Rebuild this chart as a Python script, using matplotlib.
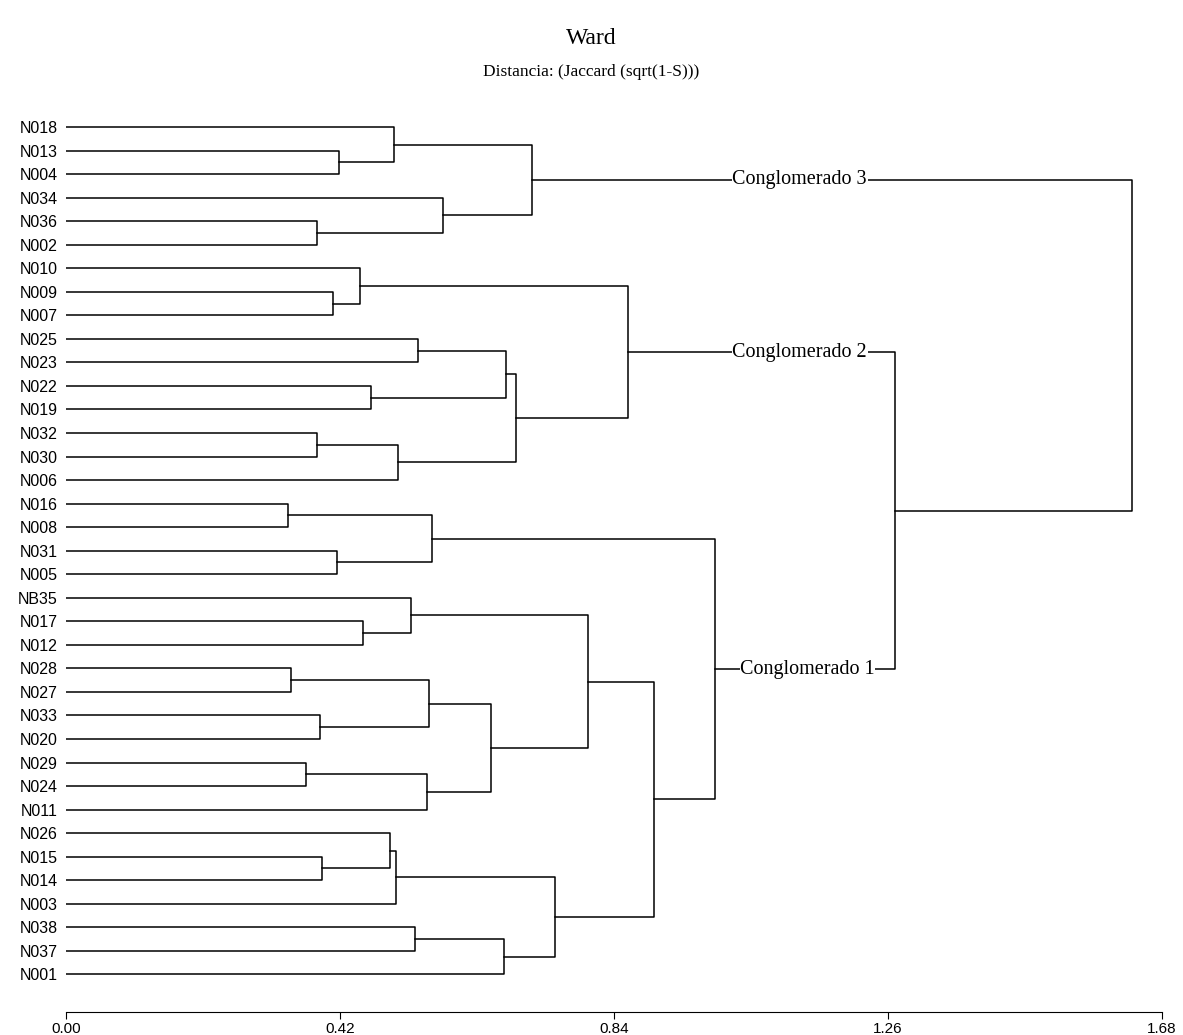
import matplotlib.pyplot as plt

leaves = ['N018', 'N013', 'N004', 'N034', 'N036', 'N002', 'N010', 'N009', 'N007',
          'N025', 'N023', 'N022', 'N019', 'N032', 'N030', 'N006', 'N016', 'N008',
          'N031', 'N005', 'NB35', 'N017', 'N012', 'N028', 'N027', 'N033', 'N020',
          'N029', 'N024', 'N011', 'N026', 'N015', 'N014', 'N003', 'N038', 'N037', 'N001']

# merges: (name, left, right, height)
merges = [
    ('a1', 'N013', 'N004', 0.418), ('a2', 'N018', 'a1', 0.503),
    ('a3', 'N036', 'N002', 0.385), ('a4', 'N034', 'a3', 0.578),
    ('C3', 'a2', 'a4', 0.714),
    ('b1', 'N009', 'N007', 0.409), ('b2', 'N010', 'b1', 0.451),
    ('b3', 'N025', 'N023', 0.540), ('b4', 'N022', 'N019', 0.468),
    ('b5', 'b3', 'b4', 0.674), ('b6', 'N032', 'N030', 0.385),
    ('b7', 'b6', 'N006', 0.509), ('b8', 'b5', 'b7', 0.690),
    ('C2', 'b2', 'b8', 0.861),
    ('c1', 'N016', 'N008', 0.340), ('c2', 'N031', 'N005', 0.415),
    ('c3', 'c1', 'c2', 0.561), ('c4', 'N017', 'N012', 0.455),
    ('c5', 'NB35', 'c4', 0.529), ('c6', 'N028', 'N027', 0.345),
    ('c7', 'N033', 'N020', 0.389), ('c8', 'c6', 'c7', 0.556),
    ('c9', 'N029', 'N024', 0.368), ('c10', 'c9', 'N011', 0.553),
    ('c11', 'c8', 'c10', 0.651), ('c12', 'c5', 'c11', 0.800),
    ('c13', 'N015', 'N014', 0.392), ('c14', 'N026', 'c13', 0.497),
    ('c15', 'c14', 'N003', 0.506), ('c16', 'N038', 'N037', 0.535),
    ('c17', 'c16', 'N001', 0.671), ('c18', 'c15', 'c17', 0.750),
    ('c19', 'c12', 'c18', 0.901), ('C1', 'c3', 'c19', 0.995),
    ('d1', 'C2', 'C1', 1.271), ('root', 'C3', 'd1', 1.635),
]
cluster_labels = {'C3': 'Conglomerado 3', 'C2': 'Conglomerado 2', 'C1': 'Conglomerado 1'}
label_x = {'C3': 1.125, 'C2': 1.125, 'C1': 1.137}
ticks = [0.00, 0.42, 0.84, 1.26, 1.68]

fig = plt.figure(figsize=(11.83, 10.35), dpi=100)
ax = fig.add_axes([0.0558, 0.0222, 0.9262, 0.8667])

pos = {name: (0.0, i) for i, name in enumerate(leaves)}
for name, l, r, h in merges:
    xl, yl = pos[l]
    xr, yr = pos[r]
    ax.plot([xl, h, h, xr], [yl, yl, yr, yr], color='black', lw=1.1)
    pos[name] = (h, (yl + yr) / 2)

for c, txt in cluster_labels.items():
    ax.text(label_x[c], pos[c][1], txt, family='Liberation Serif', fontsize=14.5,
            ha='center', va='center',
            bbox=dict(facecolor='white', edgecolor='none', pad=0.5))

ax.set_xlim(0, 1.68)
ax.set_ylim(37.6, -0.51)
ax.set_yticks(range(len(leaves)))
ax.set_yticklabels(leaves, family='Liberation Sans', fontsize=11.5)
ax.tick_params(axis='y', length=0, pad=6)
ax.set_xticks(ticks)
ax.set_xticklabels([f'{t:.2f}' for t in ticks], family='Liberation Sans', fontsize=11)
ax.tick_params(axis='x', length=5, pad=2)
for s in ['top', 'right', 'left']:
    ax.spines[s].set_visible(False)

fig.text(0.5, 1 - 38 / 1035, 'Ward', family='Liberation Serif', fontsize=17,
         ha='center', va='center')
fig.text(0.5, 1 - 72 / 1035, 'Distancia: (Jaccard (sqrt(1-S)))', family='Liberation Serif',
         fontsize=12.5, ha='center', va='center')

fig.savefig('out.png', dpi=100)
